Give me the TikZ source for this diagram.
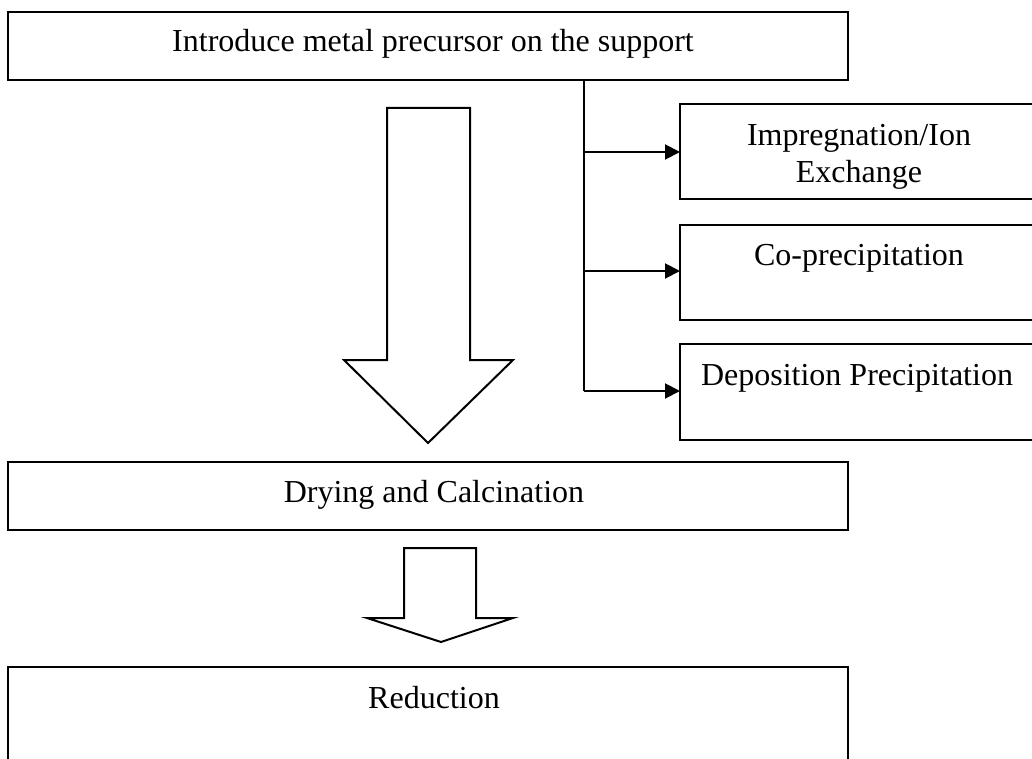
\documentclass[tikz,border=0pt]{standalone}
\usepackage{fontspec}
\setmainfont{Liberation Serif}
\usetikzlibrary{arrows.meta}

\begin{document}
\begin{tikzpicture}%
	[	x=1pt,
	y=-1pt,
	box/.style={draw, line width=2pt, inner sep=0pt, outer sep=0pt, anchor=north west},
	wide/.style={box, minimum width=840pt},
	side/.style={box, minimum width=380pt},
	lbl/.style={inner sep=0pt, align=center, font=\fontsize{32}{37}\selectfont},
	link/.style={line width=2pt},
	branch/.style={line width=2pt, -{Triangle[length=15pt,width=15pt]}},
	fatarrow/.style={line width=2pt, line join=miter, fill=white}]

\clip (0,0) rectangle (1032,759);

% boxes
\node[wide, minimum height=68pt] (intro) at (8,12) {};
\node[side, minimum height=95pt] (imp) at (680,104) {};
\node[side, minimum height=95pt] (cop) at (680,225) {};
\node[side, minimum height=96pt] (dep) at (680,344) {};
\node[wide, minimum height=68pt] (dry) at (8,462) {};
\node[wide, minimum height=130pt] (red) at (8,667) {};

% texts
\node[lbl] (introtxt) at (433,44) {Introduce metal precursor on the support};
\node[lbl] (imptxt) at (859,157) {Impregnation/Ion\\Exchange};
\node[lbl] (coptxt) at (859,258) {Co-precipitation};
\node[lbl] (deptxt) at (857,378) {Deposition Precipitation};
\node[lbl] (drytxt) at (434,495) {Drying and Calcination};
\node[lbl] (redtxt) at (434,698) {Reduction};

% branching connectors
\coordinate (split) at (584,80);
\coordinate (j1) at (584,152);
\coordinate (j2) at (584,271);
\coordinate (j3) at (584,391);

\draw[link] (split) -- (j3);
\draw[branch] (j1) -- (j1 -| imp.west);
\draw[branch] (j2) -- (j2 -| cop.west);
\draw[branch] (j3) -- (j3 -| dep.west);

% hollow arrows
\draw[fatarrow] (387,108) -- (470,108) -- (470,360) -- (513,360) -- (428,443)
	-- (344,360) -- (387,360) -- cycle;
\draw[fatarrow] (404,548) -- (476,548) -- (476,618) -- (513,618) -- (441,642)
	-- (367,618) -- (404,618) -- cycle;
\end{tikzpicture}
\end{document}
